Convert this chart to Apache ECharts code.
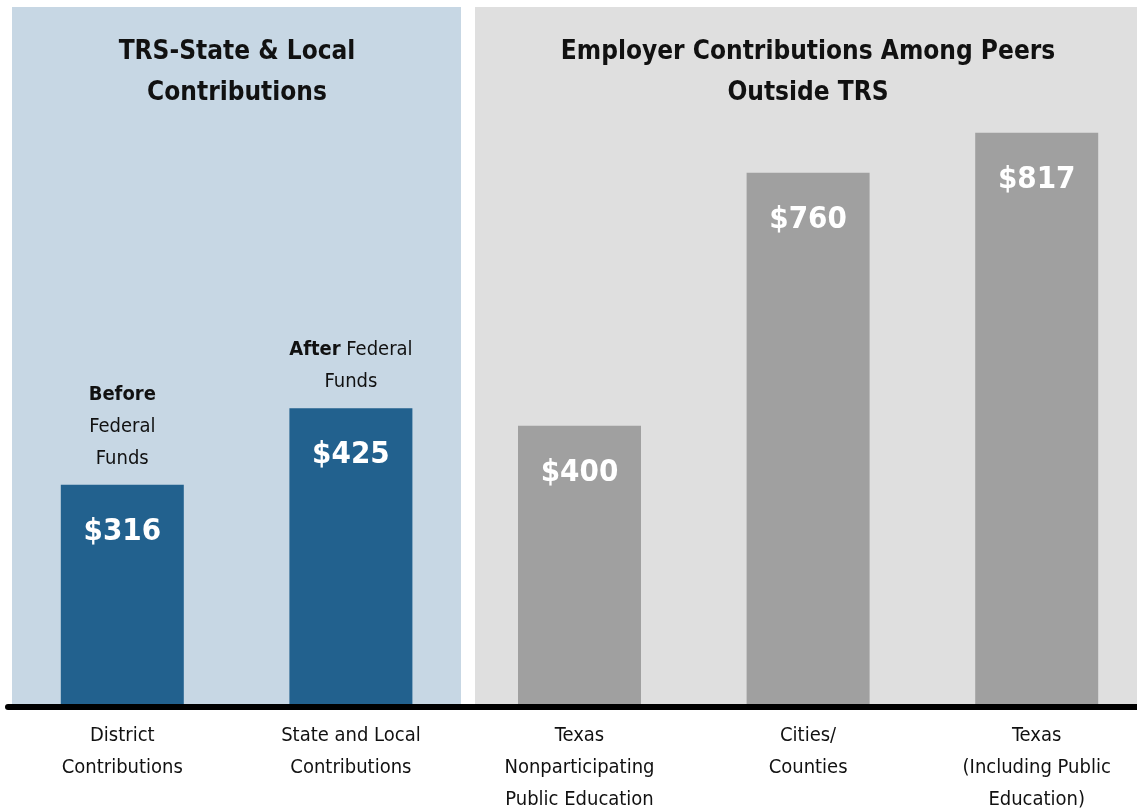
<!DOCTYPE html>
<html>
<head>
<meta charset="utf-8">
<title>TRS contributions</title>
<script src="https://cdn.jsdelivr.net/npm/echarts@6/dist/echarts.min.js"></script>
<style>
    html, body { margin: 0; padding: 0; background: #fff; }
    #main { width: 1137px; height: 810px; }
</style>
</head>
<body>
<div id="main"></div>
<script>
var categories = [
    'District\nContributions',
    'State and Local\nContributions',
    'Texas\nNonparticipating\nPublic Education',
    'Cities/\nCounties',
    'Texas\n(Including Public\nEducation)'
];
var values = [316, 425, 400, 760, 817];
var groups = ['trs', 'trs', 'peers', 'peers', 'peers'];
var notes = ['{b|Before}\nFederal\nFunds', '{b|After} Federal\nFunds', '', '', ''];
var panelTitles = ['TRS-State & Local\nContributions', 'Employer Contributions Among Peers\nOutside TRS'];

var FONT = "'Liberation Sans Narrow', 'DejaVu Sans Condensed', 'Roboto', sans-serif";
var barColors = { trs: '#22618e', peers: '#a0a0a0' };

var chart = echarts.init(document.getElementById('main'));

/* 每个柱子的颜色由分组决定 */
var barData = values.map(function (v, i) {
    return { value: v, itemStyle: { color: barColors[groups[i]] } };
});
/* 柱子上方的注释只画在有文字的柱子上 */
var noteData = values.map(function (v, i) {
    return notes[i] ? v : '-';
});

var option = {
    backgroundColor: '#fff',
    animation: false,
    textStyle: { fontFamily: FONT },
    graphic: [
        { type: 'rect', z: -10, shape: { x: 12, y: 7, width: 449, height: 700 }, style: { fill: '#c7d7e4' } },
        { type: 'rect', z: -10, shape: { x: 475, y: 7, width: 662, height: 700 }, style: { fill: '#dfdfdf' } }
    ],
    title: [{
        text: panelTitles[0],
        left: 237,
        top: 32,
        padding: 0,
        textAlign: 'center',
        textStyle: { fontFamily: FONT, fontSize: 26, fontWeight: 'bold', color: '#111', lineHeight: 41 }
    }, {
        text: panelTitles[1],
        left: 808,
        top: 32,
        padding: 0,
        textAlign: 'center',
        textStyle: { fontFamily: FONT, fontSize: 26, fontWeight: 'bold', color: '#111', lineHeight: 41 }
    }],
    grid: { left: 8, width: 1143, top: 4, bottom: 103, outerBoundsMode: 'none', containLabel: false },
    xAxis: {
        type: 'category',
        data: categories,
        z: 5,
        axisTick: { show: false },
        axisLine: { lineStyle: { color: '#000', width: 6 } },
        axisLabel: {
            interval: 0,
            margin: 13,
            fontFamily: FONT,
            fontSize: 20,
            lineHeight: 32,
            color: '#111'
        }
    },
    yAxis: {
        type: 'value',
        min: 0,
        max: 1000,
        show: false
    },
    series: [{
        type: 'bar',
        barWidth: 123,
        data: barData,
        label: {
            show: true,
            position: 'insideTop',
            distance: 29,
            formatter: '${c}',
            fontFamily: FONT,
            fontSize: 31,
            lineHeight: 36,
            fontWeight: 'bold',
            color: '#fff'
        }
    }, {
        type: 'bar',
        barWidth: 123,
        barGap: '-100%',
        silent: true,
        data: noteData,
        itemStyle: { color: 'rgba(0,0,0,0)' },
        label: {
            show: true,
            position: 'top',
            distance: 10,
            formatter: function (p) { return notes[p.dataIndex]; },
            fontFamily: FONT,
            fontSize: 20,
            lineHeight: 32,
            color: '#111',
            rich: {
                b: { fontFamily: FONT, fontSize: 20, lineHeight: 32, fontWeight: 'bold', color: '#111' }
            }
        }
    }]
};

chart.setOption(option);
window.onresize = function () {
    chart.resize();
};
</script>
</body>
</html>
